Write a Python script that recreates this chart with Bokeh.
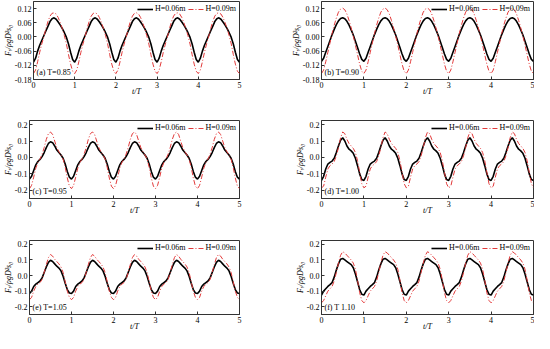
from bokeh.plotting import figure
from bokeh.layouts import column, row
from bokeh.models import Label, FixedTicker, Range1d, NumeralTickFormatter
from bokeh.embed import file_html
from bokeh.resources import INLINE

# ---- data (one period, repeated over 5 wave periods) ----
PHASE = [0.00, 0.05, 0.10, 0.15, 0.20, 0.25, 0.30, 0.35, 0.40, 0.45,
         0.50, 0.55, 0.60, 0.65, 0.70, 0.75, 0.80, 0.85, 0.90, 0.95]
PERIODS = [0, 1, 2, 3, 4, 5]

A_H06 = [-0.107, -0.090, -0.060, -0.035, -0.015, 0.005, 0.025, 0.045, 0.065, 0.077,
         0.081, 0.075, 0.063, 0.050, 0.035, 0.018, -0.002, -0.030, -0.065, -0.095]
A_H09 = [-0.155, -0.140, -0.105, -0.065, -0.030, 0.000, 0.035, 0.065, 0.088, 0.100,
         0.102, 0.097, 0.082, 0.060, 0.035, 0.005, -0.030, -0.075, -0.115, -0.145]

B_H06 = [-0.103, -0.090, -0.065, -0.040, -0.015, 0.010, 0.032, 0.052, 0.068, 0.078,
         0.081, 0.077, 0.066, 0.050, 0.030, 0.008, -0.018, -0.045, -0.072, -0.095]
B_H09 = [-0.155, -0.140, -0.105, -0.065, -0.025, 0.015, 0.050, 0.080, 0.105, 0.118,
         0.122, 0.115, 0.097, 0.070, 0.038, 0.003, -0.035, -0.075, -0.115, -0.145]

C_H06 = [-0.132, -0.115, -0.080, -0.045, -0.025, -0.012, 0.005, 0.030, 0.060, 0.085,
         0.095, 0.090, 0.070, 0.045, 0.030, 0.015, -0.005, -0.040, -0.085, -0.120]
C_H09 = [-0.190, -0.170, -0.120, -0.065, -0.030, -0.010, 0.020, 0.060, 0.110, 0.145,
         0.155, 0.140, 0.100, 0.060, 0.035, 0.015, -0.010, -0.060, -0.125, -0.175]

D_H06 = [-0.140, -0.115, -0.070, -0.040, -0.030, -0.022, -0.005, 0.030, 0.070, 0.105,
         0.120, 0.100, 0.070, 0.050, 0.040, 0.025, -0.005, -0.050, -0.100, -0.135]
D_H09 = [-0.185, -0.175, -0.120, -0.070, -0.050, -0.040, -0.025, 0.010, 0.060, 0.120,
         0.155, 0.145, 0.110, 0.085, 0.070, 0.055, 0.030, -0.020, -0.090, -0.160]

E_H06 = [-0.115, -0.100, -0.070, -0.055, -0.045, -0.035, -0.015, 0.020, 0.055, 0.085,
         0.098, 0.090, 0.075, 0.060, 0.048, 0.030, -0.005, -0.050, -0.090, -0.112]
E_H09 = [-0.155, -0.140, -0.100, -0.070, -0.055, -0.045, -0.025, 0.020, 0.070, 0.115,
         0.135, 0.125, 0.105, 0.090, 0.075, 0.055, 0.020, -0.040, -0.100, -0.140]

F_H06 = [-0.125, -0.100, -0.085, -0.070, -0.058, -0.045, -0.010, 0.035, 0.075, 0.105,
         0.110, 0.100, 0.090, 0.080, 0.070, 0.050, 0.010, -0.040, -0.090, -0.120]
F_H09 = [-0.175, -0.160, -0.130, -0.100, -0.085, -0.070, -0.035, 0.020, 0.080, 0.130,
         0.153, 0.145, 0.130, 0.115, 0.100, 0.080, 0.040, -0.030, -0.110, -0.160]

PANEL_LABELS = ["(a) T=0.85", "(b) T=0.90", "(c) T=0.95",
                "(d) T=1.00", "(e) T=1.05", "(f) T 1.10"]
SERIES_NAMES = ["H=0.06m", "H=0.09m"]
X_TITLE = "t/T"
Y_TITLE = "F\u1d63/\u03c1gD\u00b2s\u2080"
X_TICKS = [0, 1, 2, 3, 4, 5]
Y_TICKS_TOP = [-0.18, -0.12, -0.06, 0.00, 0.06, 0.12]
Y_TICKS_LOW = [-0.2, -0.1, 0.0, 0.1, 0.2]

FONT = "Liberation Serif"
RED = "#e23a3a"


def tile(vals):
    xs, ys = [], []
    for k in PERIODS[:-1]:
        for ph, v in zip(PHASE, vals):
            xs.append(k + ph)
            ys.append(v)
    xs.append(float(PERIODS[-1]))
    ys.append(vals[0])
    return xs, ys


def make(idx, h06, h09, yr, yticks, fmt, height, btop, bbot, left_col):
    if left_col:
        bl, br = 24, 28
    else:
        bl, br = 54, 1
    p = figure(width=267, height=height, output_backend="svg", toolbar_location=None,
               x_range=Range1d(0, 5), y_range=Range1d(*yr),
               min_border_left=bl, min_border_right=br,
               min_border_top=btop, min_border_bottom=bbot)
    p.background_fill_color = "white"
    p.border_fill_color = "white"
    p.outline_line_color = "#333333"
    p.outline_line_width = 1
    p.grid.visible = False

    x1, y1 = tile(h06)
    x2, y2 = tile(h09)
    p.line(x1, y1, color="black", line_width=1.6, legend_label=SERIES_NAMES[0])
    p.line(x2, y2, color=RED, line_width=1.0, line_dash="5 2 1 2",
           legend_label=SERIES_NAMES[1])

    for ax in (p.xaxis[0], p.yaxis[0]):
        ax.axis_line_color = "#333333"
        ax.major_tick_line_color = "#333333"
        ax.major_tick_in = 3
        ax.major_tick_out = 0
        ax.minor_tick_line_color = None
        ax.major_label_text_font = FONT
        ax.major_label_text_font_size = "8px"
        ax.major_label_text_color = "black"
        ax.major_label_standoff = 2
        ax.axis_label_text_font = FONT
        ax.axis_label_text_font_size = "8px"
        ax.axis_label_text_font_style = "italic"
        ax.axis_label_text_color = "black"
    p.xaxis.axis_label = X_TITLE
    p.xaxis.axis_label_standoff = -4
    p.yaxis.axis_label = Y_TITLE
    p.yaxis.axis_label_standoff = -1
    p.xaxis.ticker = FixedTicker(ticks=X_TICKS)
    p.yaxis.ticker = FixedTicker(ticks=yticks)
    p.yaxis.formatter = NumeralTickFormatter(format=fmt)

    lg = p.legend[0]
    lg.location = "top_right"
    lg.orientation = "horizontal"
    lg.background_fill_alpha = 0
    lg.border_line_alpha = 0
    lg.label_text_font = FONT
    lg.label_text_font_size = "8px"
    lg.label_text_color = "black"
    lg.glyph_width = 16
    lg.glyph_height = 6
    lg.label_standoff = 2
    lg.spacing = 2
    lg.padding = 1
    lg.margin = 2
    lg.label_height = 8

    p.add_layout(Label(x=3, y=3, x_units="screen", y_units="screen",
                       text=PANEL_LABELS[idx], text_font=FONT, text_font_size="8px",
                       text_color="black", text_baseline="bottom", text_align="left"))
    return p


TOP_R = (-0.18, 0.15)
LOW_R = (-0.25, 0.225)

pa = make(0, A_H06, A_H09, TOP_R, Y_TICKS_TOP, "0.00", 99, 1, 20, True)
pb = make(1, B_H06, B_H09, TOP_R, Y_TICKS_TOP, "0.00", 99, 1, 20, False)
pc = make(2, C_H06, C_H09, LOW_R, Y_TICKS_LOW, "0.0", 119, 21, 20, True)
pd = make(3, D_H06, D_H09, LOW_R, Y_TICKS_LOW, "0.0", 119, 21, 20, False)
pe = make(4, E_H06, E_H09, LOW_R, Y_TICKS_LOW, "0.0", 115, 22, 15, True)
pf = make(5, F_H06, F_H09, LOW_R, Y_TICKS_LOW, "0.0", 115, 22, 15, False)

layout = column(row(pa, pb), row(pc, pd), row(pe, pf))
open("out.html", "w").write(file_html(layout, INLINE))
